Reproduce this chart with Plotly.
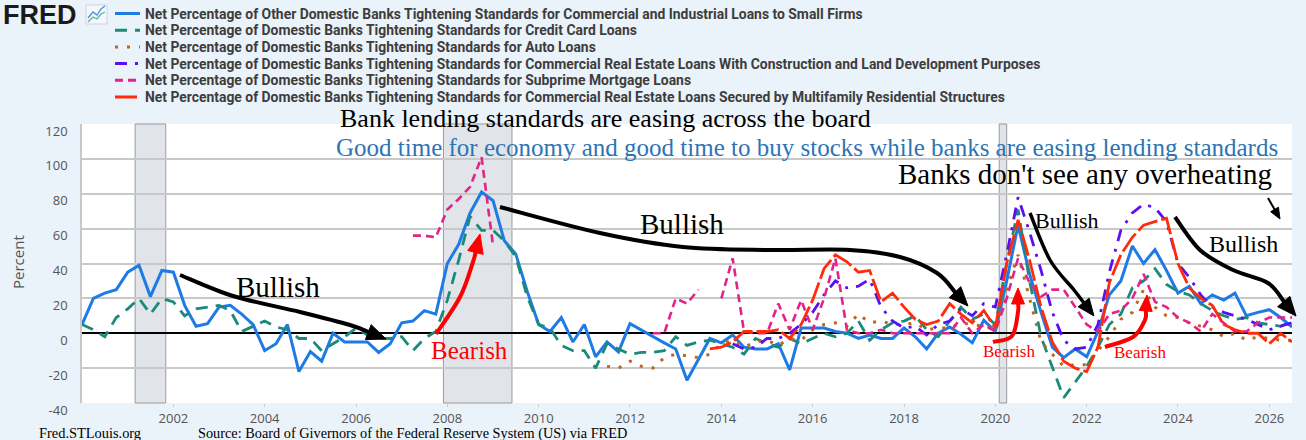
import pandas as pd
import plotly.graph_objects as go

# ---------------- data (quarterly, 2000Q1 .. 2026Q3) ----------------
dates = pd.date_range("2000-01-01", periods=107, freq="QS")

small_firms = [
    5, 20, 23, 25,          # 2000
    35, 39, 21, 36,         # 2001
    35, 16, 4, 5.5,         # 2002
    15, 16, 11, 5,          # 2003
    -10, -6, 5, -22,        # 2004
    -10.5, -16, 0, -5,      # 2005
    -5, -5, -11, -6,        # 2006
    6, 7, 13, 11,           # 2007
    40, 51, 69, 81,         # 2008
    76, 53, 45.5, 24,       # 2009
    5, 1, 9, -5,            # 2010
    5, -13.5, -5, -10.7,    # 2011
    5.5, 1.7, -2, -5.5,     # 2012
    -9, -27, -15, -3,       # 2013
    -5.5, -1, -8, -9,       # 2014
    -9, -6, -21, 3,         # 2015
    3, 3, 1, 0,             # 2016
    -3, -1, -3, -3,         # 2017
    3, -2, -9, 0,           # 2018
    3.6, -0.6, -5.5, 7.4,   # 2019
    1, 30, 62, 34,          # 2020
    12, -8, -14, -9,        # 2021
    -13.5, 1, 22, 30,       # 2022
    50, 40, 48, 36,         # 2023
    23, 27, 17, 22,         # 2024
    19, 23, 10, 12,         # 2025
    13.5, 9, 3.6,           # 2026
]

credit_card = [
    5, 2, -2, 9,            # 2000
    14, 20, 11, 20,         # 2001
    18, 10, 14, 15,         # 2002
    16, 13, 1, 4,           # 2003
    7, 3.6, 2, -3,          # 2004
    -3, -10, -6, -2,        # 2005
    3, -1, -3, -3,          # 2006
    -2, -10, -3, 1,         # 2007
    19, 42, 67, 59,         # 2008
    59, 53, 44, 21,         # 2009
    5, 3, -7, -10,          # 2010
    -10, -20, -6, -9,       # 2011
    -12, -11, -11, -10,     # 2012
    -2, -7, -5, -4,         # 2013
    -6, -8, -12, -3,        # 2014
    -6, -8, -3, -6,         # 2015
    -3, 0, -2, 0,           # 2016
    7, -4, 2, 6,            # 2017
    7, 10, 2, -2,           # 2018
    7, 15, 8, 11,           # 2019
    5, 40, 71, 30,          # 2020
    -2, -19, -37, -28,      # 2021
    -19, -8, 5, 11,         # 2022
    26, 30, 37, 28,         # 2023
    24, 22, 17, 13,         # 2024
    10, 8, 9, 6,            # 2025
    5, 4, 7,                # 2026
]

auto_loans = [None] * 46 + [
    -19, -20,               # 2011 Q3-Q4
    -16, -19, -20, -14,     # 2012
    -12, -13, -14, -12,     # 2013
    -6, -4, -8, -5,         # 2014
    -4, -7, -3, -4,         # 2015
    2, 5, 6, 4,             # 2016
    11, 6, 7, 5,            # 2017
    5, 6, 2, 3,             # 2018
    3, 6, 5, 4,             # 2019
    2, 25, 45, 20,          # 2020
    -5, -12, -19, -18,      # 2021
    -18, -10, -2, 8,        # 2022
    12, 25, 15, 10,         # 2023
    9, 6, 4, 2,             # 2024
    -2, 0, -4, -2,          # 2025
    -3, -4, -4,             # 2026
]

cre_construction = [None] * 57 + [
    -6, -9, -8,             # 2014 Q2-Q4
    -3, -3, 0, 5,           # 2015
    12, 22, 30, 26,         # 2016
    27, 31, 15, 7,          # 2017
    3, 4, -1, 5,            # 2018
    7, 14, 10, 17,          # 2019
    15, 45, 78, 58,         # 2020
    36, 12, -4, -9,         # 2021
    -8, 5, 35, 59,          # 2022
    69, 74, 72, 64,         # 2023
    40, 32, 22, 15,         # 2024
    12, 10, 8, 5,           # 2025
    2, 4, 6,                # 2026
]

subprime = [None] * 29 + [
    56, 56, 55,                 # 2007 Q2-Q4
    71, 77, 84, 101,            # 2008
    50, None, None, None,       # 2009
    None, None, None, None,     # 2010
    None, None, None, None,     # 2011
    None, None, 0, 0,           # 2012
    20, 17, 25, None,           # 2013
    20, 43, 1, 0,               # 2014
    0, 17, 2, 19,               # 2015
    2, 20, 43, 2,               # 2016
    0, 0, 2, 0,                 # 2017
    0, 0, 0, 0,                 # 2018
    0, 9, 0, 5,                 # 2019
    1, 20, 43, 29,              # 2020
    21, 25, 25, 15,             # 2021
    5, 1, 11, 13,               # 2022
    20, 34, 18, 15,             # 2023
    9, 6, 1, 11,                # 2024
    6, 1, 1, 6,                 # 2025
    9, 9, 9,                    # 2026
]

cre_multifamily = [None] * 55 + [
    -9,                     # 2013 Q4
    -8, -5, 1, 1,           # 2014
    1, 2, -3, 5,            # 2015
    19, 37, 45, 41,         # 2016
    35, 36, 18, 23,         # 2017
    15, 8, 5, 7,            # 2018
    17, 11, 6, 13,          # 2019
    3, 40, 65, 42,          # 2020
    15, -5, -16, -20,       # 2021
    -22, -8, 29, 45,        # 2022
    55, 62, 64, 66,         # 2023
    40, 26, 20, 16,         # 2024
    5, 2, 0, 0,             # 2025
    -6, 0, -5,              # 2026
]

series_names = [
    "Net Percentage of Other Domestic Banks Tightening Standards for Commercial and Industrial Loans to Small Firms",
    "Net Percentage of Domestic Banks Tightening Standards for Credit Card Loans",
    "Net Percentage of Domestic Banks Tightening Standards for Auto Loans",
    "Net Percentage of Domestic Banks Tightening Standards for Commercial Real Estate Loans With Construction and Land Development Purposes",
    "Net Percentage of Domestic Banks Tightening Standards for Subprime Mortgage Loans",
    "Net Percentage of Domestic Banks Tightening Standards for Commercial Real Estate Loans Secured by Multifamily Residential Structures",
]
series_values = [small_firms, credit_card, auto_loans, cre_construction, subprime, cre_multifamily]

recession_starts = ["2001-03-01", "2007-12-01", "2020-02-01"]
recession_ends = ["2001-11-01", "2009-06-01", "2020-04-01"]

x_tick_years = ["2002", "2004", "2006", "2008", "2010", "2012", "2014",
                "2016", "2018", "2020", "2022", "2024", "2026"]
y_tick_values = [-40, -20, 0, 20, 40, 60, 80, 100, 120]

# ---------------- styles ----------------
BG = "#eaf2fa"
colors = ["#1e7be6", "#1a8a7a", "#c0661c", "#5a10f5", "#e4238a", "#ff2b0a"]
dashes = ["solid", "12px,8px", "3px,9px", "12px,8px,3px,8px", "8px,5px", "22px,4px"]
widths = [3, 2.8, 3, 2.8, 2.6, 2.8]

W, H = 1306, 440
L, R, T, B = 82, 1292, 124, 403
PW, PH = R - L, B - T


def P(px, py):
    return (px - L) / PW, (B - py) / PH


fig = go.Figure()
for name, vals, c, d, w in zip(series_names, series_values, colors, dashes, widths):
    fig.add_trace(go.Scatter(x=dates, y=vals, name=name, mode="lines",
                             line=dict(color=c, dash=d, width=w),
                             connectgaps=False, showlegend=False))

shapes = []
for s, e in zip(recession_starts, recession_ends):
    shapes.append(dict(type="rect", xref="x", yref="paper", x0=s, x1=e, y0=0, y1=1,
                       fillcolor="#e1e5ea", line=dict(color="#9a9a9a", width=1),
                       layer="below"))

annotations = []


def text(px, py, s, size, color="black", family="Liberation Serif", xanchor="center",
         weight="normal", angle=0):
    x, y = P(px, py)
    annotations.append(dict(xref="paper", yref="paper", x=x, y=y, text=s, showarrow=False,
                            xanchor=xanchor, yanchor="middle", textangle=angle,
                            font=dict(family=family, size=size, color=color, weight=weight)))


def curve_arrow(pts, tip, color, width, head_len, head_w):
    ux, uy = tip[0] - pts[-1][0], tip[1] - pts[-1][1]
    n = (ux ** 2 + uy ** 2) ** 0.5
    ux, uy = ux / n, uy / n
    base = (tip[0] - ux * head_len, tip[1] - uy * head_len)
    allp = list(pts) + [base]

    def fmt(p):
        x, y = P(*p)
        return f"{x:.5f},{y:.5f}"
    path = "M " + fmt(allp[0])
    for i in range(len(allp) - 1):
        p0 = allp[i - 1] if i > 0 else allp[i]
        p1, p2 = allp[i], allp[i + 1]
        p3 = allp[i + 2] if i + 2 < len(allp) else p2
        c1 = (p1[0] + (p2[0] - p0[0]) / 6, p1[1] + (p2[1] - p0[1]) / 6)
        c2 = (p2[0] - (p3[0] - p1[0]) / 6, p2[1] - (p3[1] - p1[1]) / 6)
        path += f" C {fmt(c1)} {fmt(c2)} {fmt(p2)}"
    shapes.append(dict(type="path", xref="paper", yref="paper", path=path,
                       line=dict(color=color, width=width), layer="above"))
    nx, ny = -uy, ux
    back = (tip[0] - ux * (head_len + 1), tip[1] - uy * (head_len + 1))
    lft = (back[0] + nx * head_w / 2, back[1] + ny * head_w / 2)
    rgt = (back[0] - nx * head_w / 2, back[1] - ny * head_w / 2)
    tri = f"M {fmt(tip)} L {fmt(lft)} L {fmt(rgt)} Z"
    shapes.append(dict(type="path", xref="paper", yref="paper", path=tri,
                       fillcolor=color, line=dict(color=color, width=1), layer="above"))


# black "bullish" arrows
curve_arrow([(180, 275), (233, 296), (300, 312), (350, 325)], (386, 339), "black", 4, 18, 16)
curve_arrow([(500, 207), (600, 233), (683, 247), (770, 250), (850, 250), (900, 257),
             (937, 273)], (968, 306), "black", 4, 18, 16)
curve_arrow([(1030, 213), (1050, 260), (1074, 290)], (1094, 316), "black", 3.5, 16, 14)
curve_arrow([(1175, 217), (1200, 250), (1233, 270), (1268, 283)], (1296, 316), "black", 4, 18, 16)
curve_arrow([(1268, 198), (1272, 205)], (1280, 219), "black", 2, 10, 9)
# red "bearish" arrows
curve_arrow([(436, 334), (460, 297), (473, 262)], (480, 234), "#ff0000", 4, 18, 16)
curve_arrow([(993, 342), (1012, 336), (1018, 312)], (1018, 288), "#ff0000", 4, 15, 13)
curve_arrow([(1105, 347), (1133, 337), (1145, 320)], (1147, 295), "#ff0000", 4, 15, 13)

# chart texts
text(605, 118, "Bank lending standards are easing across the board", 26)
text(807, 147, "Good time for economy and good time to buy stocks while banks are easing lending standards",
     25, color="#2e74b5")
text(1085, 174, "Banks don't see any overheating", 29)
text(278, 287, "Bullish", 29)
text(682, 224, "Bullish", 29)
text(1067, 220, "Bullish", 22)
text(1243, 244, "Bullish", 24)
text(469, 350, "Bearish", 25, color="#ff0000")
text(1009, 351, "Bearish", 17, color="#ff0000")
text(1140, 352, "Bearish", 17, color="#ff0000")

# footer
text(37, 433, "Fred.STLouis.org", 14.4, xanchor="left")
text(196, 433, "Source: Board of Givernors of the Federal Reserve System (US) via FRED", 14.3,
     xanchor="left")
# y-axis title
text(18, 262, "Percent", 15, color="#555555", family="Open Sans", angle=-90)

# FRED logo + custom legend
text(1, 15, "FRED", 27, color="#1a1a1a", family="Liberation Sans", xanchor="left", weight="bold")
ix0, iy0 = P(86, 5)
ix1, iy1 = P(107, 24)
shapes.append(dict(type="rect", xref="paper", yref="paper", x0=ix0, x1=ix1, y0=iy1, y1=iy0,
                   fillcolor="#f4f8fc", line=dict(color="#c9d4e0", width=1)))
icon_lines = [([(88, 18), (93, 12), (97, 15), (101, 9), (105, 6)], "#4f8fe0"),
              ([(88, 22), (93, 17), (97, 19), (101, 14), (105, 12)], "#55b99a")]
for pts, c in icon_lines:
    path = "M " + " L ".join(f"{P(*p)[0]:.5f},{P(*p)[1]:.5f}" for p in pts)
    shapes.append(dict(type="path", xref="paper", yref="paper", path=path,
                       line=dict(color=c, width=1.3)))

for i, (name, c, d, w) in enumerate(zip(series_names, colors, dashes, widths)):
    ry = 13.5 + 16.7 * i
    x0, y0 = P(115, ry)
    x1, _ = P(140, ry)
    shapes.append(dict(type="line", xref="paper", yref="paper", x0=x0, x1=x1, y0=y0, y1=y0,
                       line=dict(color=c, dash=d, width=3)))
    text(143, ry, name, 13.9, color="#3d3d3d", family="Roboto", xanchor="left", weight="bold")

fig.update_layout(
    width=W, height=H,
    margin=dict(l=L, r=W - R, t=T, b=H - B),
    paper_bgcolor=BG, plot_bgcolor="white",
    showlegend=False,
    shapes=shapes, annotations=annotations,
    xaxis=dict(type="date", range=["2000-01-01", "2026-07-01"],
               tickvals=[f"{y}-01-01" for y in x_tick_years], ticktext=x_tick_years,
               showgrid=False, zeroline=False, ticks="outside", ticklen=3, tickcolor="#cccccc",
               tickfont=dict(family="Open Sans", size=13, color="#555555"), showline=False),
    yaxis=dict(range=[-40, 120], tickvals=y_tick_values,
               ticktext=[str(v) for v in y_tick_values],
               showgrid=True, gridcolor="#c8c8c8", gridwidth=1.5,
               zeroline=True, zerolinecolor="black", zerolinewidth=2,
               showline=True, linecolor="#c8c8c8", linewidth=1.5,
               ticks="", ticklabelstandoff=10, ticklabelshift=7,
               tickfont=dict(family="Open Sans", size=13, color="#555555")),
)

page_fix = ("document.body.style.margin='0px';document.body.style.padding='0px';"
            "document.body.style.background='" + BG + "';"
            "document.documentElement.style.overflow='hidden';")
fig.write_html("out.html", post_script=page_fix, config={"displayModeBar": False})
